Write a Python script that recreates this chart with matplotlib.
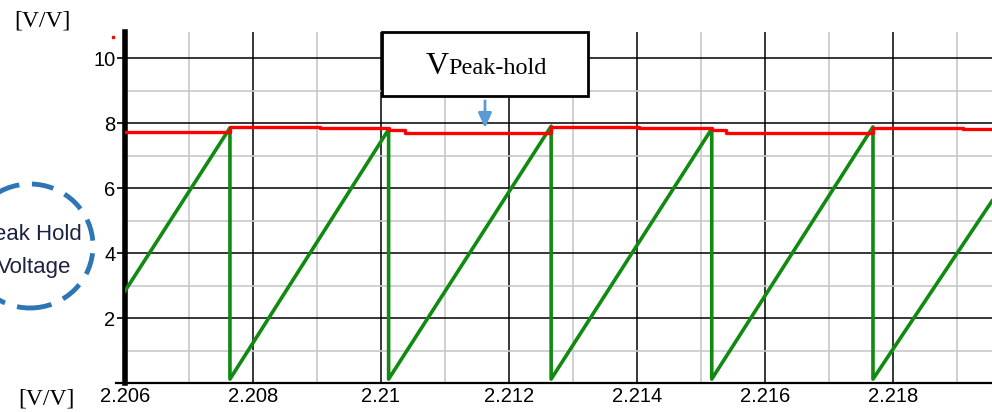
import matplotlib.pyplot as plt
from matplotlib.patches import Rectangle, Ellipse, FancyArrowPatch
from matplotlib.ticker import MultipleLocator
import numpy as np

# sawtooth ramp (green): vertex times [s] and values [V/V]
ramp_t = [2.206, 2.20764, 2.20764, 2.21012, 2.21012, 2.21266, 2.21266,
          2.21517, 2.21517, 2.21769, 2.21769, 2.21955]
ramp_v = [2.83, 7.85, 0.12, 7.80, 0.12, 7.90, 0.12,
          7.82, 0.12, 7.88, 0.12, 5.60]

# peak-hold output (red): step edges and levels
hold_t = [2.206, 2.20764, 2.20905, 2.21012, 2.21038, 2.21266, 2.21403,
          2.21517, 2.21539, 2.21769, 2.21909, 2.21955]
hold_v = [7.72, 7.88, 7.84, 7.78, 7.70, 7.88, 7.84, 7.78, 7.70, 7.86, 7.83]

xticks = [2.206, 2.208, 2.21, 2.212, 2.214, 2.216, 2.218]
xtick_labels = ['2.206', '2.208', '2.21', '2.212', '2.214', '2.216', '2.218']
yticks = [2, 4, 6, 8, 10]

W, H = 992, 412


def px(x, y):
    return x / W, 1 - y / H


fig = plt.figure(figsize=(W / 100, H / 100), dpi=100)
ax = fig.add_axes([125 / W, 1 - 383 / H, (W - 125) / W, (383 - 32) / H])

ax.set_xlim(2.206, 2.21955)
ax.set_ylim(0, 10.8)

ax.xaxis.set_minor_locator(MultipleLocator(0.001))
ax.yaxis.set_minor_locator(MultipleLocator(1))
ax.set_xticks(xticks)
ax.set_xticklabels(xtick_labels)
ax.set_yticks(yticks)

ax.grid(which='minor', color='#c8c8c8', lw=1.2)
ax.grid(which='major', color='black', lw=1.1)
ax.set_axisbelow(True)

for lbl in ax.get_xticklabels() + ax.get_yticklabels():
    lbl.set_family('Liberation Sans')
    lbl.set_fontsize(14.5)
ax.tick_params(axis='x', which='both', length=0, pad=3)
ax.tick_params(axis='y', which='major', length=6, width=1.2, pad=1)
ax.tick_params(axis='y', which='minor', length=0)

for s in ['top', 'right']:
    ax.spines[s].set_visible(False)
ax.spines['left'].set_linewidth(4)
ax.spines['bottom'].set_linewidth(1.6)
ax.spines['bottom'].set_bounds(2.206 - 9 / 64 * 0.001, 2.21955)

ax.plot(ramp_t, ramp_v, color='#108a10', lw=2.6, zorder=3)
ax.step(hold_t, hold_v + [hold_v[-1]], where='post', color='#ff0000', lw=2.4, zorder=4)

# label box with arrow pointing at the held level
x0, y0 = px(382, 96)
x1, y1 = px(588, 32)
fig.add_artist(Rectangle((x0, y0), x1 - x0, y1 - y0, transform=fig.transFigure,
                         facecolor='white', edgecolor='black', lw=2, zorder=5))
fig.text(*px(426, 74), 'V', family='Liberation Serif', fontsize=23, zorder=6)
fig.text(*px(448, 74), 'Peak-hold', family='Liberation Serif', fontsize=17.5, zorder=6)
fig.add_artist(FancyArrowPatch(px(485, 98), px(485, 131), transform=fig.transFigure,
                               arrowstyle='-|>,head_width=4,head_length=9',
                               color='#5b9bd5', lw=2, zorder=6))

# dashed callout circle on the left
cx, cy = px(30, 246)
fig.add_artist(Ellipse((cx, cy), 126 / W, 124 / H, transform=fig.transFigure,
                       fill=False, edgecolor='#2e75b6', lw=3.5,
                       linestyle=(0, (4.5, 2.6)), zorder=5))
fig.text(*px(30, 235), 'Peak Hold', ha='center', va='center', color='#1c2340',
         family='Liberation Sans', fontsize=16, zorder=6)
fig.text(*px(34, 268), 'Voltage', ha='center', va='center', color='#1c2340',
         family='Liberation Sans', fontsize=16, zorder=6)

fig.text(*px(14, 27), '[V/V]', family='Liberation Serif', fontsize=17)
fig.text(*px(18, 405), '[V/V]', family='Liberation Serif', fontsize=17)
fig.add_artist(plt.Line2D([113 / W], [1 - 37 / H], marker='s', ms=1.5,
                          color='red', transform=fig.transFigure))

fig.savefig('out.png', dpi=100)
